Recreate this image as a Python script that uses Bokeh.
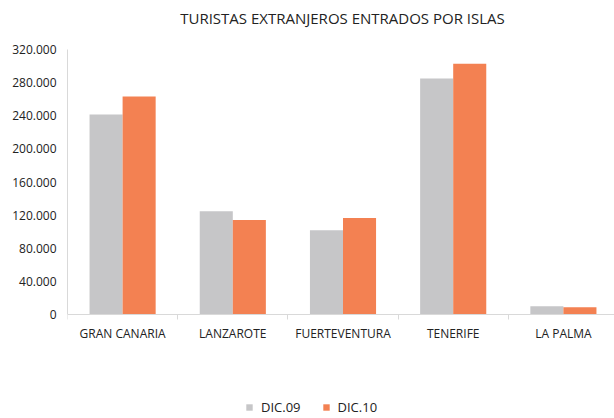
from bokeh.plotting import figure
from bokeh.models import ColumnDataSource, FixedTicker, Range1d, Legend, LegendItem, Label
from bokeh.embed import file_html
from bokeh.resources import INLINE

islands = ["GRAN CANARIA", "LANZAROTE", "FUERTEVENTURA", "TENERIFE", "LA PALMA"]
dic09 = [241600, 124600, 101700, 285000, 10000]
dic10 = [263300, 114100, 116500, 302800, 8800]
series_names = ["DIC.09", "DIC.10"]
y_ticks = [0, 40000, 80000, 120000, 160000, 200000, 240000, 280000, 320000]
y_tick_labels = ["0", "40.000", "80.000", "120.000", "160.000", "200.000", "240.000", "280.000", "320.000"]
title_text = "TURISTAS EXTRANJEROS ENTRADOS POR ISLAS"

GRAY = "#C6C6C8"
ORANGE = "#F38152"
FONT = "Open Sans"

W, H = 614, 418
FRAME_L = 67
TOP_PX = 49            # pixel row of the top tick value
ZERO_PX = 314          # pixel row of value 0
TITLE_PX = 17          # pixel row of the title's middle
TITLE_X_PX = 342
Y_MAX = 320000
px_per_unit = (ZERO_PX - TOP_PX) / Y_MAX
y_start = -(H - ZERO_PX) / px_per_unit
y_end = Y_MAX + TOP_PX / px_per_unit
cat_px = 110.2
x_end = (W - FRAME_L) / cat_px

centers = [i + 0.5 for i in range(len(islands))]
src = ColumnDataSource(dict(
    x09=[c - 0.15 for c in centers],
    x10=[c + 0.15 for c in centers],
    d09=dic09, d10=dic10,
))

p = figure(width=W, height=H, output_backend="svg", toolbar_location=None,
           x_range=Range1d(0, x_end), y_range=Range1d(y_start, y_end),
           min_border_left=FRAME_L, min_border_right=0, min_border_top=0, min_border_bottom=0)
p.outline_line_color = None
p.xgrid.visible = False
p.ygrid.visible = False
p.background_fill_color = "white"
p.border_fill_color = "white"

r09 = p.vbar(x="x09", top="d09", width=0.3, source=src, fill_color=GRAY, line_color=None)
r10 = p.vbar(x="x10", top="d10", width=0.3, source=src, fill_color=ORANGE, line_color=None)

title = Label(x=(TITLE_X_PX - FRAME_L) / cat_px, y=Y_MAX + (TOP_PX - TITLE_PX) / px_per_unit,
              text=title_text, text_align="center", text_baseline="middle",
              text_font=FONT, text_font_size="15px", text_color="#222222")
p.add_layout(title)

xa = p.xaxis[0]
xa.fixed_location = 0
xa.ticker = FixedTicker(ticks=centers, minor_ticks=[0, 1, 2, 3, 4])
xa.major_label_overrides = {c: n for c, n in zip(centers, islands)}
xa.major_tick_line_color = None
xa.major_tick_out = 0
xa.major_tick_in = 0
xa.minor_tick_out = 5
xa.minor_tick_in = 0
xa.minor_tick_line_color = "#D9D9D9"
xa.axis_line_color = "#D9D9D9"
xa.major_label_text_font = FONT
xa.major_label_text_font_size = "12px"
xa.major_label_text_color = "#222222"
xa.major_label_standoff = 5

ya = p.yaxis[0]
ya.bounds = (0, Y_MAX)
ya.ticker = FixedTicker(ticks=y_ticks)
ya.major_label_overrides = {t: l for t, l in zip(y_ticks, y_tick_labels)}
ya.major_tick_line_color = None
ya.major_tick_out = 0
ya.major_tick_in = 0
ya.minor_tick_line_color = None
ya.axis_line_color = "#D9D9D9"
ya.major_label_text_font = FONT
ya.major_label_text_font_size = "12px"
ya.major_label_text_color = "#222222"
ya.major_label_standoff = 11

legend = Legend(items=[LegendItem(label=series_names[0], renderers=[r09]),
                       LegendItem(label=series_names[1], renderers=[r10])],
                orientation="horizontal", location=(178, 2))
legend.glyph_width = 8
legend.glyph_height = 8
legend.label_standoff = 8
legend.spacing = 21
legend.padding = 0
legend.margin = 0
legend.border_line_color = None
legend.background_fill_alpha = 0
legend.label_text_font = FONT
legend.label_text_font_size = "13px"
legend.label_text_color = "#222222"
p.add_layout(legend, "center")

open("out.html", "w").write(file_html(p, INLINE))
